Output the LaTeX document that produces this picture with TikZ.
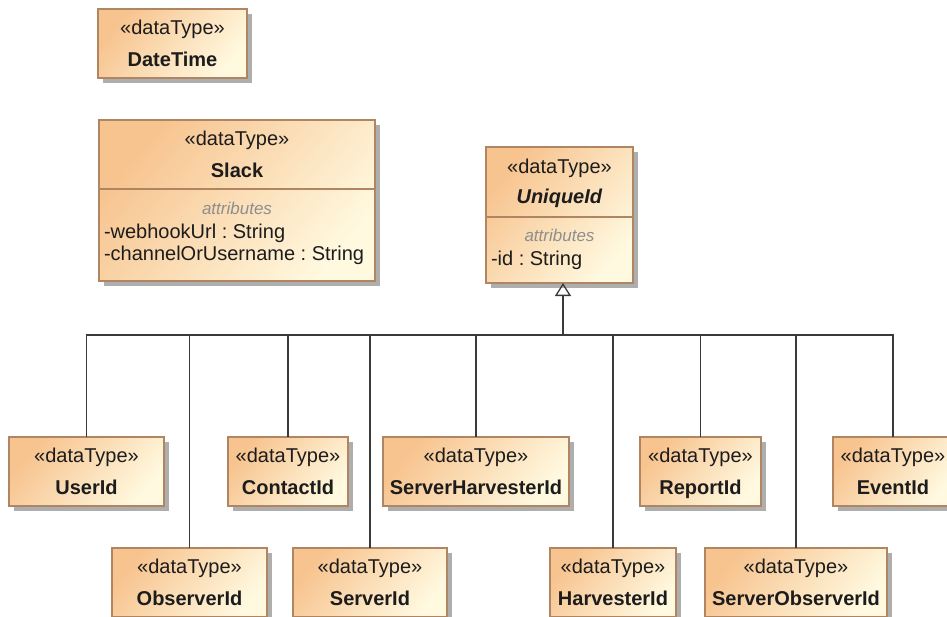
\documentclass[tikz,border=0pt]{standalone}
\usepackage{fontspec}
\setmainfont{Liberation Sans}
\frenchspacing
\usetikzlibrary{arrows.meta,shadows,calc}

\definecolor{peach}{HTML}{F7C38E}
\definecolor{cream}{HTML}{FFF9E0}
\definecolor{boxline}{HTML}{B08662}
\definecolor{shadowgray}{HTML}{AEAEAE}
\definecolor{ink}{HTML}{1C1C1C}
\definecolor{attrgray}{HTML}{8E8E8E}
\definecolor{wire}{HTML}{3A3A3A}

% a simple data type box: name, centre x, centre y, width, type name
\newcommand\dtnode[5]{%
  \node[dtbox, minimum width=#4, minimum height=69] (#1) at (#2,#3) {};
  \node[txt] (#1-st) at ($(#1.north)+(0,25)$) {«dataType»};
  \node[txt] (#1-nm) at ($(#1.north)+(0,57.5)$) {\textbf{#5}};
}

\begin{document}
\begin{tikzpicture}[x=1pt,y=-1pt,
  dtbox/.style={draw=boxline, line width=1.2pt, top color=peach, bottom color=cream,
    shading angle=50,
    drop shadow={shadow xshift=5pt, shadow yshift=-5pt, fill=shadowgray, opacity=1},
    inner sep=0pt, outer sep=0pt},
  txt/.style={anchor=base, inner sep=0pt, outer sep=0pt, text=ink,
    font=\fontsize{20}{24}\selectfont},
  attrhead/.style={anchor=base, inner sep=0pt, outer sep=0pt, text=attrgray,
    font=\fontsize{17}{20}\selectfont\itshape},
  attr/.style={anchor=base west, inner sep=0pt, outer sep=0pt, text=ink,
    font=\fontsize{20}{24}\selectfont},
  sep/.style={draw=boxline, line width=1.2pt},
  wire/.style={draw=wire, line width=1.3pt},
  gen/.style={wire, -{Triangle[open, length=13pt, width=16pt, line width=1.3pt]}}
]
\useasboundingbox (0,0) rectangle (947,616);

% --- standalone data types ---
\dtnode{datetime}{172.5}{43.5}{149}{DateTime}

% Slack with an attribute compartment
\node[dtbox, minimum width=276, minimum height=161] (slack) at (237,200.5) {};
\node[txt] (slack-st) at ($(slack.north)+(0,25)$) {«dataType»};
\node[txt] (slack-nm) at ($(slack.north)+(0,57)$) {\textbf{Slack}};
\draw[sep] ($(slack.north west)+(0,69)$) -- ($(slack.north east)+(0,69)$);
\node[attrhead] (slack-ah) at ($(slack.north)+(0,94)$) {attributes};
\node[attr] (slack-a1) at ($(slack.north west)+(5,118)$) {-webhookUrl : String};
\node[attr] (slack-a2) at ($(slack.north west)+(5,140)$) {-channelOrUsername : String};

% abstract parent UniqueId
\node[dtbox, minimum width=147, minimum height=136] (uniqueid) at (559.5,215) {};
\node[txt] (uid-st) at ($(uniqueid.north)+(0,26)$) {«dataType»};
\node[txt] (uid-nm) at ($(uniqueid.north)+(0,56)$) {\textbf{\itshape UniqueId}};
\draw[sep] ($(uniqueid.north west)+(0,70)$) -- ($(uniqueid.north east)+(0,70)$);
\node[attrhead] (uid-ah) at ($(uniqueid.north)+(0,94)$) {attributes};
\node[attr] (uid-a1) at ($(uniqueid.north west)+(5,118)$) {-id : String};

% --- subtypes, upper row ---
\dtnode{userid}{86.5}{471.5}{155}{UserId}
\dtnode{contactid}{288}{471.5}{120}{ContactId}
\dtnode{serverharvesterid}{476}{471.5}{186}{ServerHarvesterId}
\dtnode{reportid}{700.5}{471.5}{121}{ReportId}
\dtnode{eventid}{893}{471.5}{120}{EventId}

% --- subtypes, lower row ---
\dtnode{observerid}{189.5}{582.5}{155}{ObserverId}
\dtnode{serverid}{370}{582.5}{154}{ServerId}
\dtnode{harvesterid}{613}{582.5}{126}{HarvesterId}
\dtnode{serverobserverid}{796}{582.5}{182}{ServerObserverId}

% --- generalization tree ---
\coordinate (bus) at (563,335);
\draw[gen] (bus) -- (bus |- uniqueid.south);
\foreach \child in {userid,contactid,serverharvesterid,reportid,eventid,
                    observerid,serverid,harvesterid,serverobserverid}
  \draw[wire] (\child.north) |- (bus);
\end{tikzpicture}
\end{document}
